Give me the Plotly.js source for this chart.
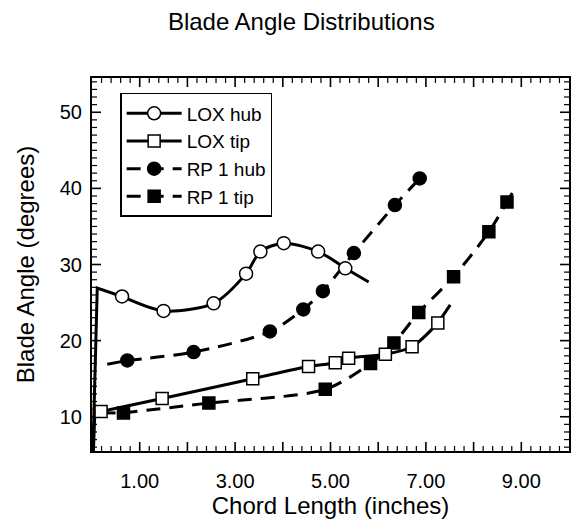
<!DOCTYPE html>
<html>
<head>
<meta charset="utf-8">
<script src="https://cdn.plot.ly/plotly-3.0.1.min.js"></script>
<style>html,body{margin:0;padding:0;background:#fff}#chart{width:575px;height:525px}</style>
</head>
<body>
<div id="chart"></div>
<script>
// ---- data ----
const xTickVals = [0, 1, 2, 3, 4, 5, 6, 7, 8, 9, 10];
const xTickText = ['', '1.00', '', '3.00', '', '5.00', '', '7.00', '', '9.00', ''];
const yTickVals = [10, 20, 30, 40, 50];
const yTickText = ['10', '20', '30', '40', '50'];
const xMinorPerMajor = 5;   // minor ticks every 0.2
const yMinorPerMajor = 10;  // minor ticks every 1

const seriesNames = ['LOX hub', 'LOX tip', 'RP 1 hub', 'RP 1 tip'];

const loxHubX = [0.02, 0.11, 0.63, 1.50, 2.55, 3.23, 3.53, 4.02, 4.74, 5.31, 5.80];
const loxHubY = [5.5, 26.9, 25.8, 23.9, 24.9, 28.8, 31.7, 32.8, 31.7, 29.5, 27.7];
const loxHubMarked = [0, 0, 1, 1, 1, 1, 1, 1, 1, 1, 0];

const loxTipX = [0.03, 0.06, 0.19, 1.47, 3.37, 4.54, 5.10, 5.38, 6.15, 6.71, 7.25, 7.51];
const loxTipY = [5.5, 10.7, 10.7, 12.4, 15.0, 16.6, 17.1, 17.7, 18.2, 19.2, 22.3, 24.7];
const loxTipMarked = [0, 0, 1, 1, 1, 1, 1, 1, 1, 1, 1, 0];

const rpHubX = [0.32, 0.74, 2.13, 3.73, 4.43, 4.84, 5.49, 6.35, 6.87];
const rpHubY = [16.9, 17.4, 18.5, 21.2, 24.1, 26.5, 31.5, 37.8, 41.3];
const rpHubMarked = [0, 1, 1, 1, 1, 1, 1, 1, 1];

const rpTipX = [0.20, 0.66, 2.45, 4.89, 5.84, 6.33, 6.85, 7.58, 8.32, 8.70, 8.81];
const rpTipY = [10.5, 10.5, 11.8, 13.6, 17.0, 19.7, 23.7, 28.4, 34.3, 38.2, 39.4];
const rpTipMarked = [0, 1, 1, 1, 1, 1, 1, 1, 1, 1, 0];

// ---- layout constants ----
const FONT = 'Liberation Sans, Arial, Helvetica, sans-serif';
const X_RANGE = [0, 10];
const Y_RANGE = [5.5, 54.5];
const W = 575, H = 525;
const MARGIN = {l: 92, r: 6, t: 78, b: 74};

function buildSeries(name, xs, ys, marked, style, rank) {
  const first = marked.indexOf(1);
  const last = marked.lastIndexOf(1);
  const lineBase = {color: '#000', width: 3, dash: style.dash};
  const traces = [];
  if (first > 0) {
    traces.push({
      x: xs.slice(0, first + 1), y: ys.slice(0, first + 1),
      mode: 'lines', line: Object.assign({}, lineBase, {shape: 'linear'}),
      showlegend: false, legendgroup: name, hoverinfo: 'skip'
    });
  }
  if (last < xs.length - 1) {
    traces.push({
      x: xs.slice(last), y: ys.slice(last),
      mode: 'lines', line: Object.assign({}, lineBase, {shape: 'linear'}),
      showlegend: false, legendgroup: name, hoverinfo: 'skip'
    });
  }
  traces.push({
    x: xs.slice(first, last + 1), y: ys.slice(first, last + 1),
    name: name, legendgroup: name, legendrank: rank,
    mode: 'lines+markers',
    line: Object.assign({}, lineBase, {shape: 'spline', smoothing: 0.8}),
    marker: {symbol: style.symbol, size: style.size, color: style.fill,
             line: {color: '#000', width: 1.5}}
  });
  return traces;
}

// ---- inside tick marks on all four sides, derived from the axis scales ----
const pxPerX = (W - MARGIN.l - MARGIN.r) / (X_RANGE[1] - X_RANGE[0]);
const pxPerY = (H - MARGIN.t - MARGIN.b) / (Y_RANGE[1] - Y_RANGE[0]);
function tickTrace(major) {
  const tx = [], ty = [];
  const len = major ? 9 : 5;
  const xStep = (xTickVals[1] - xTickVals[0]) / xMinorPerMajor;
  const nX = Math.round((X_RANGE[1] - X_RANGE[0]) / xStep);
  for (let i = 1; i < nX; i++) {
    if ((i % xMinorPerMajor === 0) !== major) continue;
    const v = X_RANGE[0] + i * xStep;
    const d = len / pxPerY;
    tx.push(v, v, null, v, v, null);
    ty.push(Y_RANGE[0], Y_RANGE[0] + d, null, Y_RANGE[1], Y_RANGE[1] - d, null);
  }
  const yStep = (yTickVals[1] - yTickVals[0]) / yMinorPerMajor;
  const j0 = Math.ceil(Y_RANGE[0] / yStep), j1 = Math.floor(Y_RANGE[1] / yStep);
  for (let j = j0; j <= j1; j++) {
    if ((j % yMinorPerMajor === 0) !== major) continue;
    const v = j * yStep;
    const d = len / pxPerX;
    tx.push(X_RANGE[0], X_RANGE[0] + d, null, X_RANGE[1], X_RANGE[1] - d, null);
    ty.push(v, v, null, v, v, null);
  }
  return {x: tx, y: ty, mode: 'lines', connectgaps: false, showlegend: false,
          hoverinfo: 'skip', line: {color: '#000', width: major ? 1.6 : 1.2}};
}

const data = [].concat(
  [tickTrace(false), tickTrace(true)],
  buildSeries(seriesNames[2], rpHubX, rpHubY, rpHubMarked, {dash: '14px,9px', symbol: 'circle', size: 13, fill: '#000'}, 3),
  buildSeries(seriesNames[3], rpTipX, rpTipY, rpTipMarked, {dash: '14px,9px', symbol: 'square', size: 12, fill: '#000'}, 4),
  buildSeries(seriesNames[0], loxHubX, loxHubY, loxHubMarked, {dash: 'solid', symbol: 'circle', size: 13, fill: '#fff'}, 1),
  buildSeries(seriesNames[1], loxTipX, loxTipY, loxTipMarked, {dash: 'solid', symbol: 'square', size: 12, fill: '#fff'}, 2)
);

const layout = {
  width: W, height: H,
  margin: MARGIN,
  font: {family: FONT, size: 20, color: '#000'},
  title: {text: 'Blade Angle Distributions', x: 0.524, xanchor: 'center',
          y: 0.958, yanchor: 'middle', font: {size: 24, family: FONT}},
  xaxis: {
    range: X_RANGE, tickmode: 'array', tickvals: xTickVals, ticktext: xTickText,
    ticks: '', showline: true, linewidth: 2, linecolor: '#000', mirror: true,
    showgrid: false, zeroline: false, ticklabelstandoff: 11,
    title: {text: 'Chord Length (inches)', font: {size: 24, family: FONT}, standoff: 6}
  },
  yaxis: {
    range: Y_RANGE, tickmode: 'array', tickvals: yTickVals, ticktext: yTickText,
    ticks: '', showline: true, linewidth: 2, linecolor: '#000', mirror: true,
    showgrid: false, zeroline: false, ticklabelstandoff: 4,
    title: {text: 'Blade Angle (degrees)', font: {size: 24, family: FONT}, standoff: 18}
  },
  legend: {
    x: 0.059, y: 0.96, xanchor: 'left', yanchor: 'top',
    bgcolor: '#fff', bordercolor: '#000', borderwidth: 1.5,
    font: {size: 19, family: FONT}, traceorder: 'normal', itemwidth: 55,
    tracegroupgap: 0
  },
  showlegend: true
};

Plotly.newPlot('chart', data, layout, {displayModeBar: false});
</script>
</body>
</html>
